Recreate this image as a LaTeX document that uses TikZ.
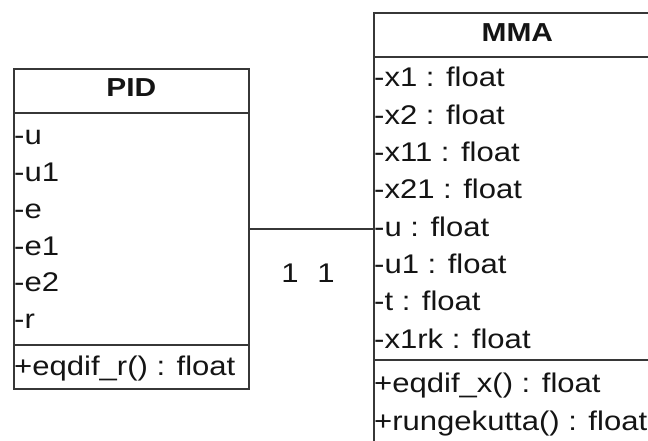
\documentclass[tikz,border=0pt]{standalone}
\usepackage{fontspec}
\setmainfont{Liberation Sans}[FakeStretch=1.15]
\usetikzlibrary{positioning, calc}
\definecolor{umlline}{RGB}{55,55,55}
\definecolor{umltext}{RGB}{20,20,20}
\tikzset{
  classbox/.style={rectangle, draw=umlline, line width=1.6pt,
    anchor=north west, inner sep=0pt},
  classname/.style={font=\fontsize{26}{30}\selectfont\bfseries,
    color=umltext, anchor=base, inner sep=0pt},
  member/.style={font=\fontsize{27}{32}\selectfont, color=umltext,
    anchor=base west, inner sep=0pt},
  sepline/.style={line width=1.6pt, color=umlline},
  assoc/.style={line width=1.4pt, color=umlline},
  mult/.style={font=\fontsize{27}{32}\selectfont, color=umltext,
    anchor=base, inner sep=0pt}
}

\begin{document}
\begin{tikzpicture}[x=1pt, y=-1pt]
  \useasboundingbox (0,0) rectangle (648,441);
  \clip (0,0) rectangle (648,441);

  % PID class
  \node[classbox, minimum width=235pt, minimum height=320pt] (pid) at (13,68) {};
  \draw[sepline] ($(pid.north west)+(0,45)$) -- ($(pid.north east)+(0,45)$);
  \draw[sepline] ($(pid.north west)+(0,277)$) -- ($(pid.north east)+(0,277)$);
  \node[classname] (pidname) at ($(pid.north)+(0,29)$) {PID};
  \foreach \attr [count=\i] in {-u,-u1,-e,-e1,-e2,-r}
    \node[member] (pida\i) at ($(pid.north west)+(1,{77+(\i-1)*36.7})$) {\attr};
  \node[member] (pidm1) at ($(pid.north west)+(1,307)$) {+eqdif\_r() : float};

  % MMA class
  \node[classbox, minimum width=287pt, minimum height=432pt] (mma) at (373,12) {};
  \draw[sepline] ($(mma.north west)+(0,45)$) -- ($(mma.north east)+(0,45)$);
  \draw[sepline] ($(mma.north west)+(0,348)$) -- ($(mma.north east)+(0,348)$);
  \node[classname] (mmaname) at ($(mma.north)+(0,30)$) {MMA};
  \foreach \attr [count=\i] in {-x1,-x2,-x11,-x21,-u,-u1,-t,-x1rk}
    \node[member] (mmaa\i) at ($(mma.north west)+(1,{75+(\i-1)*37.3})$) {\attr{} : float};
  \node[member] (mmam1) at ($(mma.north west)+(1,380)$) {+eqdif\_x() : float};
  \node[member] (mmam2) at ($(mma.north west)+(1,418)$) {+rungekutta() : float};

  % Association
  \draw[assoc] (pid.east) -- (mma.west);
  \node[mult] (multpid) at (290,282) {1};
  \node[mult] (multmma) at (326,282) {1};
\end{tikzpicture}
\end{document}
